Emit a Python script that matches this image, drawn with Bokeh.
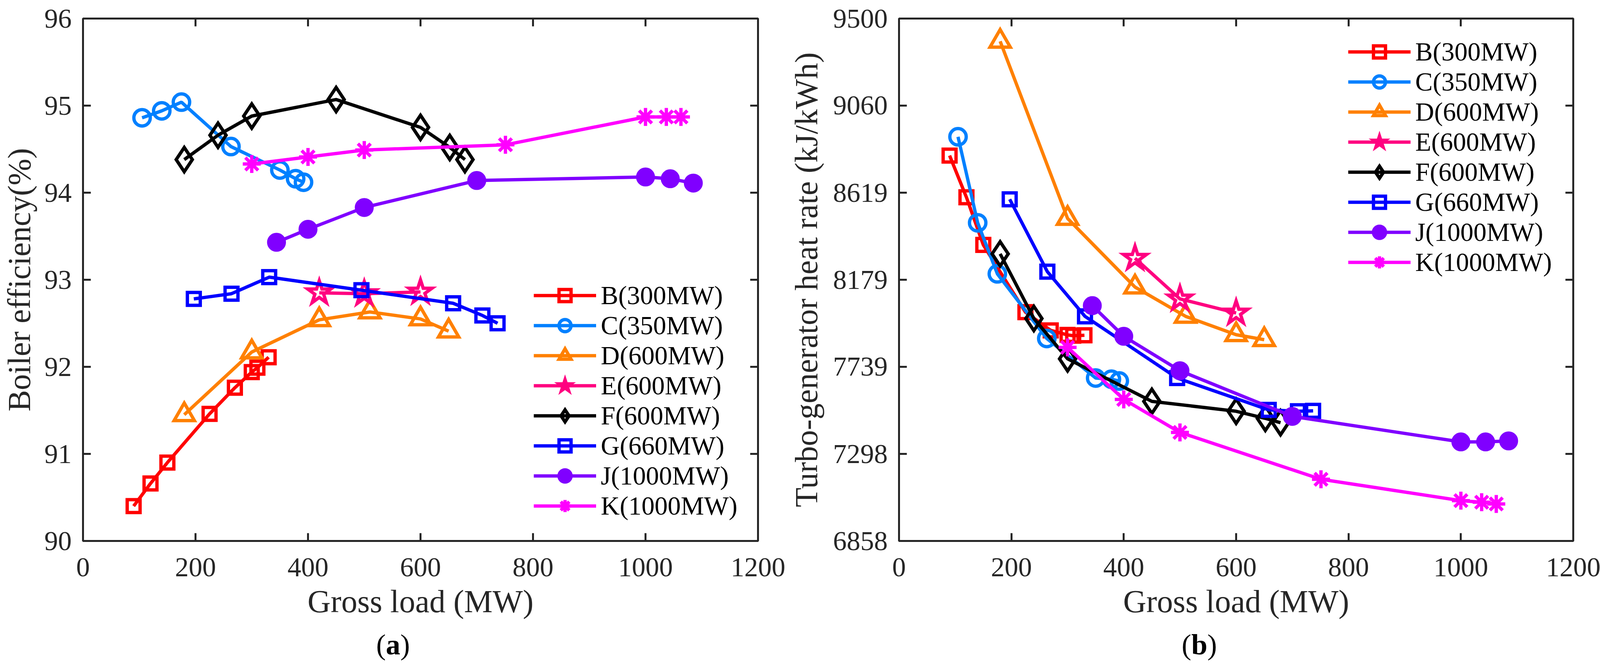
from bokeh.plotting import figure
from bokeh.models import (Range1d, LinearAxis, FixedTicker, Legend, LegendItem,
                          NumeralTickFormatter, CustomJSTickFormatter, Div)
from bokeh.layouts import row, column
from bokeh.embed import file_html
from bokeh.resources import INLINE

FONT = "Liberation Serif"
AXC = "#262626"

# ---------------- data ----------------
load_ticks = [0, 200, 400, 600, 800, 1000, 1200]
eff_ticks = [90, 91, 92, 93, 94, 95, 96]
hr_ticks = [6858, 7298.33, 7738.67, 8179, 8619.33, 9059.67, 9500]
hr_tick_labels = ["6858", "7298", "7739", "8179", "8619", "9060", "9500"]

unit_names = ["B(300MW)", "C(350MW)", "D(600MW)", "E(600MW)",
              "F(600MW)", "G(660MW)", "J(1000MW)", "K(1000MW)"]
unit_colors = ["#FF0000", "#0080FF", "#FF8000", "#FF0080",
               "#000000", "#0000FF", "#8000FF", "#FF00FF"]
unit_markers = ["square", "circle", "triangle", "star",
                "diamond", "square", "circle", "asterisk"]
unit_marker_sizes = [33, 42, 52, 62, 62, 33, 40, 46]
unit_filled = [False, False, False, False, False, False, True, False]

B_load = [90, 120, 150, 225, 270, 300, 310, 330]
B_eff = [90.40, 90.66, 90.90, 91.46, 91.76, 91.94, 91.99, 92.11]
B_hr = [8807, 8596, 8355, 8015, 7923, 7900, 7896, 7898]

C_load = [105, 140, 175, 263, 350, 378, 392]
C_eff = [94.86, 94.94, 95.04, 94.53, 94.26, 94.16, 94.12]
C_hr = [8902, 8467, 8209, 7882, 7682, 7676, 7667]

D_load = [180, 300, 420, 510, 600, 650]
D_eff = [91.45, 92.17, 92.54, 92.63, 92.55, 92.41]
D_hr = [9385, 8489, 8142, 7994, 7901, 7876]

E_load = [420, 500, 600]
E_eff = [92.85, 92.84, 92.86]
E_hr = [8288, 8082, 8011]

F_load = [180, 240, 300, 450, 600, 652, 679]
F_eff = [94.38, 94.66, 94.88, 95.07, 94.75, 94.52, 94.38]
F_hr = [8310, 7983, 7779, 7564, 7514, 7478, 7456]

G_load = [197, 264, 331, 495, 658, 710, 737]
G_eff = [92.78, 92.84, 93.03, 92.88, 92.73, 92.59, 92.50]
G_hr = [8586, 8220, 7994, 7682, 7521, 7514, 7516]

J_load = [344, 400, 500, 700, 1000, 1044, 1085]
J_eff = [93.43, 93.58, 93.83, 94.14, 94.18, 94.16, 94.11]
J_hr = [8048, 7893, 7719, 7488, 7359, 7359, 7364]

K_load = [300, 400, 500, 751, 1000, 1037, 1063]
K_eff = [94.33, 94.41, 94.49, 94.55, 94.87, 94.87, 94.87]
K_hr = [7837, 7574, 7407, 7170, 7062, 7054, 7045]

all_loads = [B_load, C_load, D_load, E_load, F_load, G_load, J_load, K_load]
all_eff = [B_eff, C_eff, D_eff, E_eff, F_eff, G_eff, J_eff, K_eff]
all_hr = [B_hr, C_hr, D_hr, E_hr, F_hr, G_hr, J_hr, K_hr]

FRAME_W = 1731
FRAME_H = 1341
FIG_H = 1610
TAG_H = 84
LW = 8.5


def style_axis(ax, ticker, show_labels=True, standoff=29):
    ax.ticker = FixedTicker(ticks=ticker)
    ax.axis_line_color = None
    ax.major_tick_in = 20
    ax.major_tick_out = 0
    ax.major_tick_line_width = 5
    ax.major_tick_line_color = AXC
    ax.minor_tick_line_color = None
    ax.major_label_text_font = FONT
    ax.major_label_text_color = AXC
    if show_labels:
        ax.major_label_text_font_size = "70px"
        ax.major_label_standoff = standoff
    else:
        ax.formatter = CustomJSTickFormatter(code="return ''")
        ax.major_label_text_font_size = "1px"
        ax.major_label_standoff = 0
    ax.axis_label_text_font = FONT
    ax.axis_label_text_font_size = "82px"
    ax.axis_label_text_font_style = "normal"
    ax.axis_label_text_color = AXC


def make_panel(width, mb_left, mb_top, y_start, y_end, y_ticks, y_label,
               series_y, legend_loc, ylab_standoff,
               y_formatter=None, y_overrides=None):
    mb_right = width - mb_left - FRAME_W
    p = figure(width=width, height=FIG_H,
               x_range=Range1d(0, 1200), y_range=Range1d(y_start, y_end),
               output_backend="svg", toolbar_location=None,
               min_border_left=mb_left, min_border_right=mb_right,
               min_border_top=mb_top,
               min_border_bottom=FIG_H - mb_top - FRAME_H)
    p.grid.visible = False
    p.background_fill_color = "white"
    p.border_fill_color = "white"
    p.outline_line_color = AXC
    p.outline_line_width = 5
    p.outline_line_alpha = 1

    style_axis(p.xaxis[0], load_ticks, standoff=44)
    style_axis(p.yaxis[0], y_ticks, standoff=29)
    p.xaxis[0].axis_label = "Gross load (MW)"
    p.xaxis[0].axis_label_standoff = 16
    p.yaxis[0].axis_label = y_label
    p.yaxis[0].axis_label_standoff = ylab_standoff
    if y_formatter is not None:
        p.yaxis[0].formatter = y_formatter
    if y_overrides is not None:
        p.yaxis[0].major_label_overrides = y_overrides

    top_ax = LinearAxis()
    style_axis(top_ax, load_ticks, show_labels=False)
    p.add_layout(top_ax, "above")
    right_ax = LinearAxis()
    style_axis(right_ax, y_ticks, show_labels=False)
    p.add_layout(right_ax, "right")

    items = []
    for name, color, mk, sz, fl, xs, ys in zip(unit_names, unit_colors, unit_markers,
                                              unit_marker_sizes, unit_filled,
                                              all_loads, series_y):
        rl = p.line(xs, ys, line_color=color, line_width=LW)
        rs = p.scatter(xs, ys, marker=mk, size=sz, line_color=color, line_width=LW,
                       fill_color=color if fl else None, line_join="miter")
        items.append(LegendItem(label=name, renderers=[rl, rs]))

    legend = Legend(items=items, location=legend_loc, orientation="vertical",
                    border_line_color=None, background_fill_alpha=0,
                    padding=0, margin=0, spacing=0,
                    glyph_width=160, glyph_height=77, label_height=77,
                    label_standoff=12, label_text_font=FONT,
                    label_text_font_size="67px", label_text_line_height=1.1,
                    label_text_color="black")
    p.add_layout(legend)
    return p


def make_tag(letter, width, indent):
    return Div(text="(<b>%s</b>)" % letter, width=width, height=TAG_H, margin=(0, 0, 0, 0),
               styles={"font-family": FONT, "font-size": "74px", "line-height": "82px",
                       "color": "black", "text-indent": "%dpx" % indent,
                       "white-space": "nowrap", "overflow": "hidden"})


p1 = make_panel(width=2015, mb_left=209, mb_top=47,
                y_start=90, y_end=96, y_ticks=eff_ticks,
                y_label="Boiler efficiency(%)", series_y=all_eff,
                legend_loc=(1154, 51), ylab_standoff=16)

p2 = make_panel(width=2084, mb_left=281, mb_top=44,
                y_start=6858, y_end=9500, y_ticks=hr_ticks,
                y_label="Turbo-generator heat rate (kJ/kWh)", series_y=all_hr,
                legend_loc=(1150, 675), ylab_standoff=20,
                y_formatter=NumeralTickFormatter(format="0"),
                y_overrides=dict(zip(hr_ticks, hr_tick_labels)))

tag_a = make_tag("a", 2015, 963)
tag_b = make_tag("b", 2084, 1010)

layout = column(row(p1, p2), row(tag_a, tag_b))
open("out.html", "w").write(file_html(layout, INLINE))
